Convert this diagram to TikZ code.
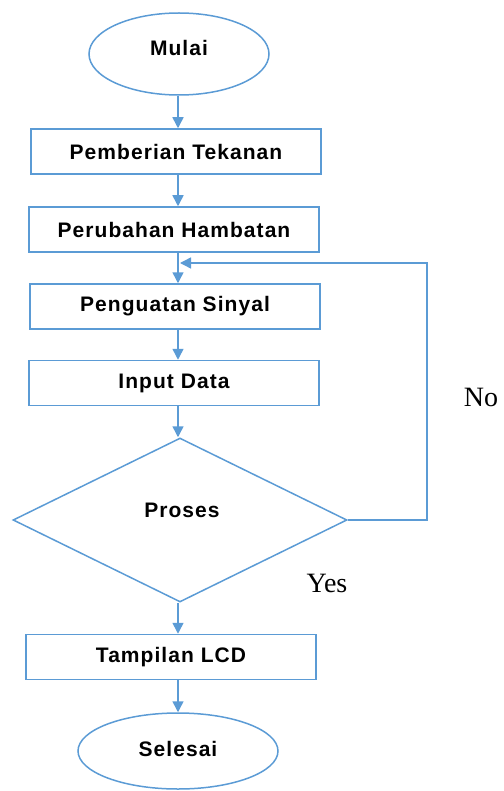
\documentclass[tikz,border=0pt]{standalone}
\usepackage{fontspec}
\setmainfont{Liberation Serif}
\newfontfamily\labfont[LetterSpace=5]{Liberation Sans}
\usetikzlibrary{arrows.meta,shapes.geometric}
\definecolor{flowblue}{HTML}{5B9BD5}
\tikzset{
  flowline/.style={draw=flowblue, line width=1.5pt},
  arr/.style={flowline, -{Triangle[length=11pt,width=11pt]}},
  labeltext/.style={font=\labfont\bfseries\fontsize{21}{25}\selectfont},
  procbox/.style={flowline, labeltext, rectangle, minimum width=290pt,
    minimum height=45pt, inner sep=0pt},
  terminal/.style={flowline, ellipse, inner sep=0pt},
  decision/.style={flowline, diamond, inner sep=0pt, minimum width=334pt,
    minimum height=164pt, shape aspect=2.04},
  plain/.style={labeltext, inner sep=0pt},
  branch/.style={font=\fontsize{28}{32}\selectfont, inner sep=0pt}
}
\begin{document}
\begin{tikzpicture}[x=1pt, y=-1pt]
  \useasboundingbox (0,0) rectangle (503,791);
  % terminals
  \node[terminal, minimum width=180pt, minimum height=82pt] (start) at (179,54) {};
  \node[plain] (starttext) at (179,48) {Mulai};
  \node[terminal, minimum width=200pt, minimum height=76pt] (stop) at (178,751) {};
  \node[plain] (stoptext) at (178,749) {Selesai};
  % process steps
  \node[procbox] (b1) at (176,151.5) {Pemberian Tekanan};
  \node[procbox] (b2) at (174,229.5) {Perubahan Hambatan};
  \node[procbox] (b3) at (175,306.5) {Penguatan Sinyal};
  \node[procbox] (b4) at (174,383) {Input Data};
  \node[procbox] (b5) at (171,657) {Tampilan LCD};
  % decision
  \node[decision] (dec) at (180,520) {};
  \node[plain] (dectext) at (182,510) {Proses};
  % branch labels
  \node[branch] (yes) at (327,583) {Yes};
  \node[branch] (no) at (481,397) {No};
  % main flow
  \coordinate (spine) at (178,0);
  \draw[arr] (start.south -| spine) -- (b1.north -| spine);
  \draw[arr] (b1.south -| spine) -- (b2.north -| spine);
  \draw[arr] (b2.south -| spine) -- (b3.north -| spine);
  \draw[arr] (b3.south -| spine) -- (b4.north -| spine);
  \draw[arr] (b4.south -| spine) -- (dec.north -| spine);
  \draw[arr] (dec.south -| spine) -- (b5.north -| spine);
  \draw[arr] (b5.south -| spine) -- (stop.north -| spine);
  % feedback loop from the decision
  \coordinate (loopc) at (427,263);
  \coordinate (loopend) at (180,263);
  \draw[arr] (dec.east) -| (loopc) -- (loopend);
\end{tikzpicture}
\end{document}
